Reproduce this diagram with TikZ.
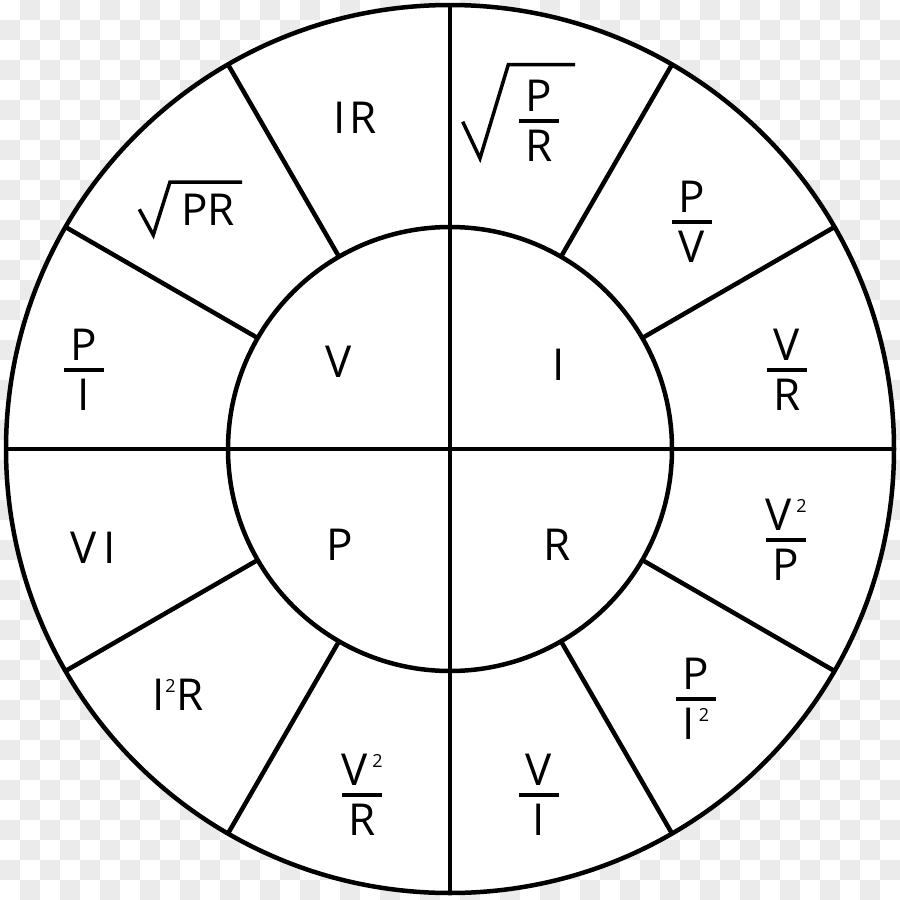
\documentclass[tikz,border=0pt]{standalone}
\usepackage{fontspec}
\setmainfont{Open Sans}
\usetikzlibrary{calc}
\definecolor{chk}{HTML}{EBEBEB}
\newcommand\fr[2]{\vbox{\offinterlineskip\halign{\hfil##\hfil\cr #1\cr\noalign{\kern7pt}\rule{40pt}{4pt}\cr\noalign{\kern8pt}#2\cr}}}
\newcommand\sqr[1][2pt]{\kern#1\smash{\raisebox{18.5pt}{\fontsize{18}{18}\selectfont 2}}}
\begin{document}
\begin{tikzpicture}[x=1pt,y=-1pt,
  lbl/.style={inner sep=0pt, font=\fontsize{44}{50}\selectfont},
  ln/.style={line width=4.5pt},
  rad/.style={line width=3.5pt, line join=miter}]
\useasboundingbox (0,0) rectangle (900,900);
% transparency checkerboard
\foreach \j in {0,...,44}{
  \foreach \k in {0,...,22}{
    \fill[chk] ({40*\k+20-20*mod(\j,2)},{20*\j}) rectangle +(20,20);
  }
}
\coordinate (O) at (450,449);
\fill[white] (O) circle (444pt);
\draw[ln] (O) circle (444pt);
\draw[ln] (O) circle (222pt);
\draw[ln] ($(O)+(90:444pt)$) -- ($(O)+(270:444pt)$);
\draw[ln] ($(O)+(180:444pt)$) -- ($(O)+(0:444pt)$);
\foreach \a in {30,60,120,150,210,240,300,330}
  \draw[ln] ($(O)+(\a:222pt)$) -- ($(O)+(\a:444pt)$);
% inner labels
\node[lbl] (v) at (339,362) {V};
\node[lbl] (i) at (559,365) {I};
\node[lbl] (p) at (340,545) {P};
\node[lbl] (r) at (557,545) {R};
% outer labels
\node[lbl] (ir) at (355,117.5) {I\kern3pt R};
\node[lbl] (pr) at (208,210) {PR};
\draw[rad] (139.3,209.3) -- (153.3,235) -- (170,182) -- (242,182);
\node[lbl] (pi) at (83.5,370) {\fr{P}{I}};
\node[lbl] (vi) at (93,548) {V\,I};
\node[lbl] (i2r) at (178,695) {I\sqr[1pt]\kern1pt R};
\node[lbl] (v2r) at (362,795) {\fr{V\sqr[5pt]}{R}};
\node[lbl] (vovi) at (539,795) {\fr{V}{I}};
\node[lbl] (pi2) at (696,699) {\fr{P}{I\sqr[4pt]}};
\node[lbl] (v2p) at (786,540) {\fr{V\sqr[5pt]}{P}};
\node[lbl] (vr) at (787,370) {\fr{V}{R}};
\node[lbl] (pv) at (692,222) {\fr{P}{V}};
\node[lbl] (spr) at (539,121) {\fr{P}{R}};
\draw[rad] (462.7,121.7) -- (480,158.3) -- (508.3,64.7) -- (575,64.7);
\end{tikzpicture}
\end{document}
